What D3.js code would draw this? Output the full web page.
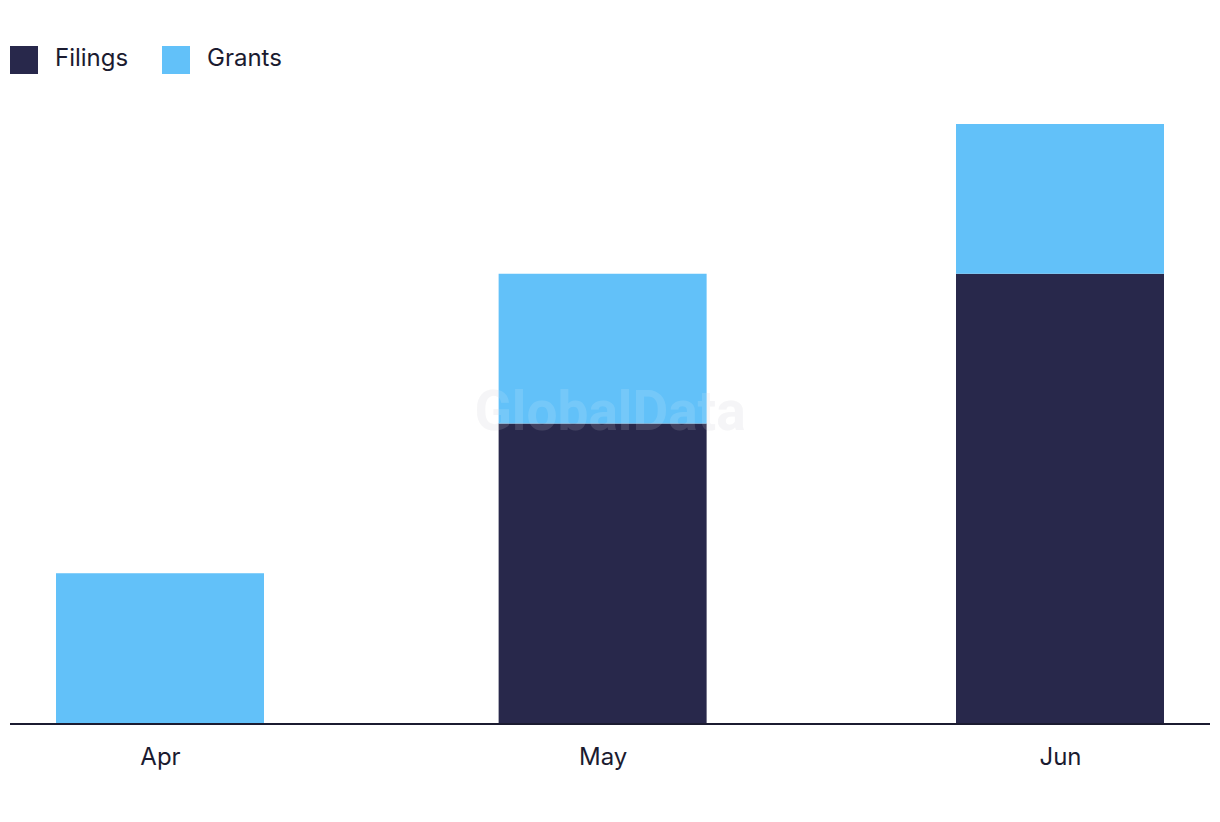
<!DOCTYPE html>
<html>
<head>
<meta charset="utf-8">
<script src="https://cdn.jsdelivr.net/npm/d3@7"></script>
<style>
  body { margin: 0; background: #fff; }
  svg text { font-family: Inter, "Noto Sans", sans-serif; fill: #1b1b30; }
</style>
</head>
<body>
<div id="chart"></div>
<script>
// chart data
const months = ["2023-04-01", "2023-05-01", "2023-06-01"];
const monthLabels = ["Apr", "May", "Jun"];
const filings = [0, 2, 3];
const grants = [1, 1, 1];
const seriesNames = ["Filings", "Grants"];
const seriesColors = ["#28284b", "#62c1f9"];

const width = 1220, height = 822;
const margin = { top: 124, bottom: 99, left: 10, right: 10 };
const barWidth = 208;

const svg = d3.select("#chart").append("svg")
  .attr("width", width)
  .attr("height", height);

const parse = d3.utcParse("%Y-%m-%d");
const dates = months.map(parse);

// time scale -> months are spaced by their number of days
const xScale = d3.scaleUtc()
  .domain([dates[0], dates[dates.length - 1]])
  .range([160, 1060]);

const yScale = d3.scaleLinear()
  .domain([0, 4])
  .range([height - margin.bottom, margin.top]);

const rows = dates.map((d, i) => ({ date: d, Filings: filings[i], Grants: grants[i] }));
const stacked = d3.stack().keys(seriesNames)(rows);

// watermark (under the bars)
svg.append("text")
  .attr("x", 610)
  .attr("y", 430)
  .attr("text-anchor", "middle")
  .style("font-family", "Roboto, 'Liberation Sans', sans-serif")
  .style("font-weight", "bold")
  .style("font-size", "55px")
  .style("fill", "#e8e8ec")
  .style("opacity", 0.45)
  .text("GlobalData");

// bars
svg.selectAll("g.series")
  .data(stacked)
  .join("g")
  .attr("class", "series")
  .attr("fill", (d, i) => seriesColors[i])
  .selectAll("rect")
  .data(d => d)
  .join("rect")
  .attr("x", d => xScale(d.data.date) - barWidth / 2)
  .attr("y", d => yScale(d[1]))
  .attr("width", barWidth)
  .attr("height", d => yScale(d[0]) - yScale(d[1]));

// watermark again over bars, faint
svg.append("text")
  .attr("x", 610)
  .attr("y", 430)
  .attr("text-anchor", "middle")
  .style("font-family", "Roboto, 'Liberation Sans', sans-serif")
  .style("font-weight", "bold")
  .style("font-size", "55px")
  .style("fill", "#ffffff")
  .style("opacity", 0.12)
  .text("GlobalData");

// x axis
const xAxis = d3.axisBottom(xScale)
  .tickValues(dates)
  .tickSize(0)
  .tickPadding(25)
  .tickFormat((d, i) => monthLabels[i]);

const axisG = svg.append("g")
  .attr("transform", `translate(0,${height - margin.bottom})`)
  .call(xAxis);
axisG.select(".domain").remove();
axisG.selectAll("text")
  .style("font-size", "24px")
  .style("font-family", "Inter, 'Noto Sans', sans-serif")
  .attr("fill", "#1b1b30");

svg.append("line")
  .attr("x1", margin.left)
  .attr("x2", width - margin.right)
  .attr("y1", height - margin.bottom + 1)
  .attr("y2", height - margin.bottom + 1)
  .attr("stroke", "#1b1b30")
  .attr("stroke-width", 2);

// legend
const legend = svg.append("g").attr("transform", "translate(10,46)");
const items = legend.selectAll("g")
  .data(seriesNames)
  .join("g")
  .attr("transform", (d, i) => `translate(${i * 152},0)`);
items.append("rect")
  .attr("width", 28)
  .attr("height", 28)
  .attr("fill", (d, i) => seriesColors[i]);
items.append("text")
  .attr("x", 45)
  .attr("y", 12)
  .attr("dy", "0.35em")
  .style("font-size", "24px")
  .text(d => d);
</script>
</body>
</html>
